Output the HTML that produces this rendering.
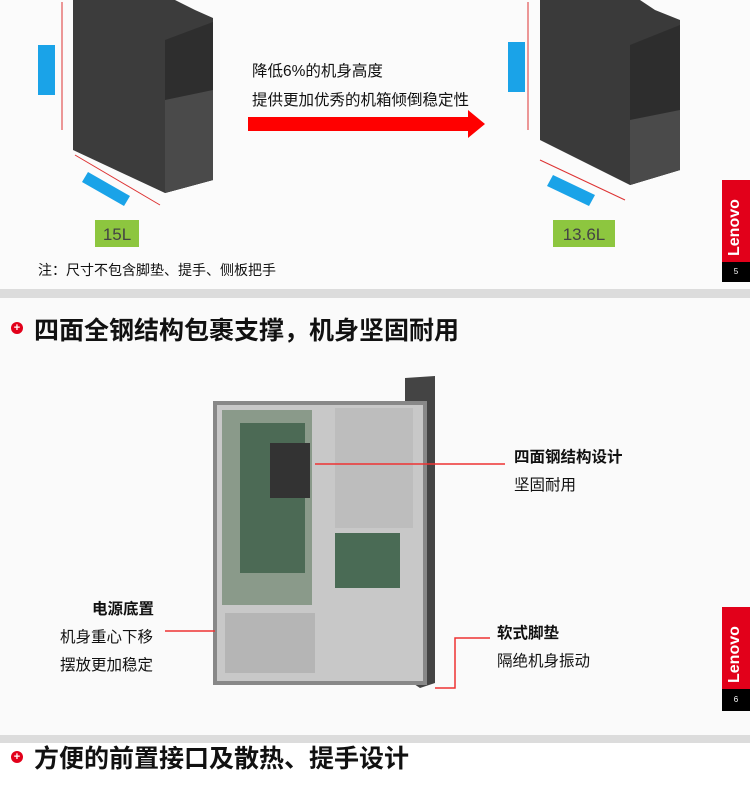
<!DOCTYPE html>
<html><head><meta charset="utf-8"><style>
body{margin:0;width:750px;height:788px;position:relative;overflow:hidden;background:#fff;font-family:"Liberation Sans","Noto Sans CJK SC",sans-serif}
.a{position:absolute}
.t{font-size:15.5px;color:#111}
.logo{position:absolute;background:#e2001a;width:28px;color:#fff;font-weight:bold;font-size:16px}
.logo span{position:absolute;transform:rotate(-90deg);transform-origin:left top;white-space:nowrap}
.num{position:absolute;background:#000;color:#fff;width:28px;font-size:8px;text-align:center}
.h{position:absolute;left:34px;font-size:25px;font-weight:bold;color:#111;white-space:nowrap}
</style></head><body>
<div class="a" style="left:0;top:0;width:750px;height:289px;background:#fbfbfb"></div>
<svg class="a" style="left:0;top:0" width="750" height="290">
<polygon points="73,0 175,0 195,10 213,18 213,180 165,193 73,150" fill="#3c3c3c"/>
<polygon points="165,40 213,22 213,180 165,193" fill="#2e2e2e"/>
<polygon points="165,100 213,90 213,180 165,193" fill="#4a4a4a"/>
<polygon points="540,0 640,0 655,10 680,20 680,170 630,185 540,140" fill="#3a3a3a"/>
<polygon points="630,45 680,25 680,170 630,185" fill="#2d2d2d"/>
<polygon points="630,120 680,110 680,170 630,185" fill="#4a4a4a"/>
<line x1="62" y1="2" x2="62" y2="130" stroke="#d33" stroke-width="1"/>
<line x1="528" y1="2" x2="528" y2="130" stroke="#d33" stroke-width="1"/>
<line x1="75" y1="155" x2="160" y2="205" stroke="#d33"/>
<line x1="540" y1="160" x2="625" y2="200" stroke="#d33"/>
<rect x="38" y="45" width="17" height="50" fill="#1aa3e8"/>
<rect x="508" y="42" width="17" height="50" fill="#1aa3e8"/>
<polygon points="88,172 130,196 124,206 82,182" fill="#1aa3e8"/>
<polygon points="553,175 595,195 589,206 547,186" fill="#1aa3e8"/>
<rect x="95" y="220" width="44" height="27" fill="#8dc63f"/>
<rect x="553" y="220" width="62" height="27" fill="#8dc63f"/>
<text x="117" y="240" font-size="17" fill="#444" text-anchor="middle" font-family="Liberation Sans">15L</text>
<text x="584" y="240" font-size="17" fill="#444" text-anchor="middle" font-family="Liberation Sans">13.6L</text>
<polygon points="248,117 468,117 468,110 485,124 468,138 468,131 248,131" fill="#f00"/>
</svg>
<div class="a t" style="left:252px;top:59px">降低6%的机身高度</div>
<div class="a t" style="left:252px;top:88px">提供更加优秀的机箱倾倒稳定性</div>
<div class="a t" style="left:38px;top:260px;font-size:14px">注：尺寸不包含脚垫、提手、侧板把手</div>
<div class="logo" style="left:722px;top:180px;height:82px"><span style="left:4px;top:76px">Lenovo</span></div>
<div class="num" style="left:722px;top:262px;height:20px;line-height:20px">5</div>
<div class="a" style="left:0;top:289px;width:750px;height:9px;background:#dcdcdc"></div>
<div class="a" style="left:0;top:298px;width:750px;height:437px;background:#fafafa"></div>
<div class="a" style="left:11px;top:322px;width:12px;height:12px;border-radius:50%;background:#e2001a;color:#fff;font-size:11px;line-height:12px;text-align:center;font-weight:bold">+</div>
<div class="h" style="top:311px">四面全钢结构包裹支撑，机身坚固耐用</div>
<svg class="a" style="left:0;top:298px" width="750" height="440">
<polygon points="405,80 435,78 435,385 420,390 405,380" fill="#444"/>
<rect x="215" y="105" width="210" height="280" fill="#c8c8c8"/>
<rect x="222" y="112" width="90" height="195" fill="#8a9a8a"/>
<rect x="240" y="125" width="65" height="150" fill="#4c6a55"/>
<rect x="270" y="145" width="40" height="55" fill="#333"/>
<rect x="335" y="110" width="78" height="120" fill="#bdbdbd"/>
<rect x="335" y="235" width="65" height="55" fill="#4a6b55"/>
<rect x="225" y="315" width="90" height="60" fill="#b5b5b5"/>
<rect x="215" y="105" width="210" height="280" fill="none" stroke="#888" stroke-width="4"/>
<line x1="315" y1="166" x2="505" y2="166" stroke="#e33" stroke-width="1.5"/>
<line x1="165" y1="333" x2="215" y2="333" stroke="#e33" stroke-width="1.5"/>
<polyline points="435,390 455,390 455,340 490,340" fill="none" stroke="#e33" stroke-width="1.5"/>
</svg>
<div class="a t" style="left:514px;top:445px;font-weight:bold">四面钢结构设计</div>
<div class="a t" style="left:514px;top:473px">坚固耐用</div>
<div class="a t" style="left:92px;top:597px;font-weight:bold">电源底置</div>
<div class="a t" style="left:60px;top:625px">机身重心下移</div>
<div class="a t" style="left:60px;top:653px">摆放更加稳定</div>
<div class="a t" style="left:497px;top:621px;font-weight:bold">软式脚垫</div>
<div class="a t" style="left:497px;top:649px">隔绝机身振动</div>
<div class="logo" style="left:722px;top:607px;height:82px"><span style="left:4px;top:76px">Lenovo</span></div>
<div class="num" style="left:722px;top:689px;height:22px;line-height:22px">6</div>
<div class="a" style="left:0;top:735px;width:750px;height:8px;background:#dcdcdc"></div>
<div class="a" style="left:11px;top:751px;width:12px;height:12px;border-radius:50%;background:#e2001a;color:#fff;font-size:11px;line-height:12px;text-align:center;font-weight:bold">+</div>
<div class="h" style="top:739px">方便的前置接口及散热、提手设计</div>
</body></html>
